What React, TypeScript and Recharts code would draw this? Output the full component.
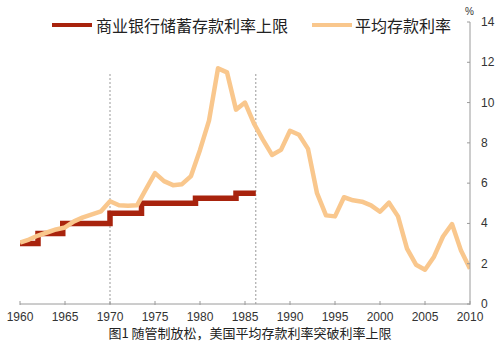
import React from 'react';
import { LineChart, Line, XAxis, YAxis } from 'recharts';

const years = [
  1960, 1961, 1962, 1963, 1964, 1965, 1966, 1967, 1968, 1969,
  1970, 1971, 1972, 1973, 1974, 1975, 1976, 1977, 1978, 1979,
  1980, 1981, 1982, 1983, 1984, 1985, 1986, 1987, 1988, 1989,
  1990, 1991, 1992, 1993, 1994, 1995, 1996, 1997, 1998, 1999,
  2000, 2001, 2002, 2003, 2004, 2005, 2006, 2007, 2008, 2009, 2010,
];
const avgRate = [
  3.05, 3.2, 3.4, 3.55, 3.7, 3.8, 4.1, 4.3, 4.45, 4.6,
  5.1, 4.9, 4.88, 4.9, 5.7, 6.5, 6.1, 5.9, 5.95, 6.35,
  7.65, 9.1, 11.7, 11.5, 9.65, 10.0, 8.95, 8.15, 7.4, 7.65,
  8.6, 8.4, 7.7, 5.5, 4.4, 4.35, 5.3, 5.15, 5.08, 4.9,
  4.58, 5.03, 4.35, 2.75, 1.95, 1.7, 2.35, 3.35, 3.97, 2.65, 1.75,
];
const capYears = [1960, 1962, 1964.75, 1970, 1973.5, 1979.5, 1984, 1986.2];
const capRate = [3.0, 3.5, 4.0, 4.5, 5.0, 5.25, 5.5, 5.5];
const markerYears = [1970, 1986.2];
const markerTop = 11.5;
const xTicks = [1960, 1965, 1970, 1975, 1980, 1985, 1990, 1995, 2000, 2005, 2010];
const yTicks = [0, 2, 4, 6, 8, 10, 12, 14];
const legendLabels = ['商业银行储蓄存款利率上限', '平均存款利率'];
const unitLabel = '%';
const caption = '图1 随管制放松，美国平均存款利率突破利率上限';

const RED = '#A8230D';
const ORANGE = '#F9C78D';
const AXIS = '#9a9a9a';
const NUM_FONT = '"Liberation Sans", Arial, sans-serif';
const CJK_FONT = '"Noto Sans CJK SC", "Noto Sans", sans-serif';

const avgData = years.map((y, i) => ({ x: y, v: avgRate[i] }));
const capData = capYears.map((y, i) => ({ x: y, v: capRate[i] }));
const markerData = markerYears.map((y) => [
  { x: y, v: 0 },
  { x: y, v: markerTop },
]);

const XTick = (props: any) => {
  const { x, y, payload } = props;
  return (
    <g>
      <line x1={x} x2={x} y1={y - 3} y2={y + 1} stroke={AXIS} strokeWidth={1} />
      <text x={x} y={y + 17} textAnchor="middle" fontSize={12} fill="#333" fontFamily={NUM_FONT}>
        {payload.value}
      </text>
    </g>
  );
};

const YTick = (props: any) => {
  const { x, y, payload } = props;
  return (
    <g>
      <line x1={x - 3} x2={x} y1={y} y2={y} stroke={AXIS} strokeWidth={1} />
      <text x={x + 11} y={y + 4} textAnchor="start" fontSize={12} fill="#333" fontFamily={NUM_FONT}>
        {payload.value}
      </text>
    </g>
  );
};

export default function App() {
  return (
    <div style={{ position: 'relative', width: 500, height: 351, background: '#fff' }}>
      <style>{`body{margin:0;}`}</style>
      <LineChart
        width={500}
        height={351}
        margin={{ top: 22, right: 0, left: 20, bottom: 27 }}
      >
        <XAxis
          dataKey="x"
          type="number"
          domain={[1960, 2010]}
          ticks={xTicks}
          allowDataOverflow
          height={20}
          stroke={AXIS}
          tickSize={0}
          tickMargin={0}
          tick={<XTick />}
        />
        <YAxis
          orientation="right"
          type="number"
          domain={[0, 14]}
          ticks={yTicks}
          width={30}
          stroke={AXIS}
          tickSize={0}
          tickMargin={0}
          tick={<YTick />}
        />
        {markerData.map((d, i) => (
          <Line
            key={'m' + i}
            data={d}
            dataKey="v"
            stroke="#999"
            strokeWidth={1}
            strokeDasharray="2 2"
            dot={false}
            isAnimationActive={false}
          />
        ))}
        <Line
          data={capData}
          dataKey="v"
          type="stepAfter"
          stroke={RED}
          strokeWidth={5.5}
          dot={false}
          isAnimationActive={false}
        />
        <Line
          data={avgData}
          dataKey="v"
          type="linear"
          stroke={ORANGE}
          strokeWidth={4.5}
          strokeLinejoin="round"
          dot={false}
          isAnimationActive={false}
        />
      </LineChart>

      <div style={{ position: 'absolute', left: 52, top: 23, width: 40, height: 4, background: RED }} />
      <div
        style={{
          position: 'absolute', left: 96, top: 14, fontSize: 16, lineHeight: '22px',
          fontFamily: CJK_FONT, color: '#222', whiteSpace: 'nowrap',
        }}
      >
        {legendLabels[0]}
      </div>
      <div style={{ position: 'absolute', left: 312, top: 23, width: 40, height: 4, background: ORANGE }} />
      <div
        style={{
          position: 'absolute', left: 355, top: 14, fontSize: 16, lineHeight: '22px',
          fontFamily: CJK_FONT, color: '#222', whiteSpace: 'nowrap',
        }}
      >
        {legendLabels[1]}
      </div>
      <div
        style={{
          position: 'absolute', left: 465, top: 6, fontSize: 10, lineHeight: '12px',
          fontFamily: NUM_FONT, color: '#333',
        }}
      >
        {unitLabel}
      </div>
      <div
        style={{
          position: 'absolute', left: 0, width: 500, top: 324, textAlign: 'center',
          fontSize: 13, lineHeight: '18px', fontFamily: CJK_FONT, color: '#222',
        }}
      >
        {caption}
      </div>
    </div>
  );
}
